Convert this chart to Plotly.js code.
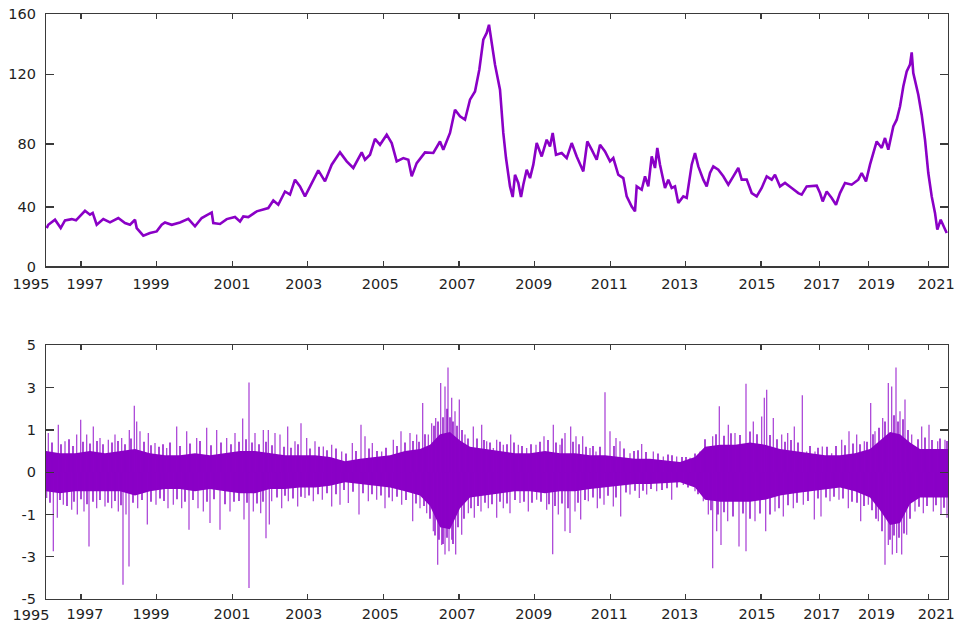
<!DOCTYPE html>
<html><head><meta charset="utf-8">
<script src="https://cdn.plot.ly/plotly-3.0.1.min.js"></script>
<style>html,body{margin:0;padding:0;background:#fff}#chart{width:958px;height:623px}</style>
</head><body><div id="chart"></div>
<script>
// ---------- tick labels ----------
const yearLabels = ['1997','1999','2001','2003','2005','2007','2009','2011','2013','2015','2017','2019','2021'];
const firstYearLabel = '1995';
// positions along the (unevenly labelled) time axis, in plot position units
const yearLabelPos = [85,151,232,303.8,380.3,457.3,533.8,609.3,679.8,757,821.8,876.5,936.2];
const yearTickPos  = [81,156.7,232.3,307.7,383.3,459,534.3,610.3,685.7,761,819.7,868.7,928.3];
const priceTickLabels = ['0','40','80','120','160'];
const priceTickPos = [0,37.65,77.6,121.7,160];
const retTickLabels = ['-5','-3','-1','0','1','3','5'];
const retTickPos = [-3,-2,-1,0,1,2,3];

// ---------- top panel: price series ----------
const pricePos = [46.7,48.3,55,60.7,65,71.7,76,80,85,90,92.7,96.7,103.3,110,118.3,125,130,135,136.7,143.3,
150,156.7,161.7,165,171.7,180,188.3,195,201.7,211.7,213.3,220,226.7,235,240,243.3,248.3,256.7,263.3,268.3,
273.3,278.3,285,290,295,300,305,310,318.3,325,331.7,340,346.7,353.3,361.7,365,370,375,380,386.7,
391.7,396.7,403.3,408.3,411.7,416.7,425,433.3,440,443.3,450,455,460,465,470,475,479.3,483.3,486.7,489,
491.7,495,500,503.3,506,508.3,510,512.7,515,518.3,521,523.3,526.7,530,533.3,536.7,541.7,546.7,550,552.7,
556,561.7,566.7,571.7,576.7,583.3,587.3,591.7,596.7,600,605,610,613.3,618.3,623.3,626.7,631.7,635,636.7,641.7,
645,648.3,651.7,655,657.3,660,665,668.3,671.7,675,678.3,683.3,686.7,691.7,695,698.3,703.3,706.7,710,713.3,
718.3,723.3,728.3,733.3,738.3,741.7,746.7,751.7,756.7,761.7,766.7,771.7,775,780,785,791.7,798.3,801.7,806.7,816.7,
820,822.7,826.7,831.7,836,840,845,851.7,858.3,861.7,866,870,876.7,881.7,885,888.3,893.3,896.7,900,903.3,
906.7,910,911.7,913.3,915,918.3,921.7,925,928.3,931.7,935,937.3,940.7,943.3,946.7];
const price = [24.3,26.4,29.6,24.3,29.2,30.0,29.2,32.1,35.3,32.8,33.9,26.4,30.0,27.9,30.7,27.5,26.4,29.6,24.3,19.5,
21.2,22.2,26.4,27.9,26.4,27.9,30.2,25.4,30.7,34.2,27.5,26.9,30.0,31.3,28.5,31.7,31.3,34.9,35.9,37.0,
41.8,39.1,47.5,45.5,55.0,50.7,44.4,50.7,60.9,53.9,64.5,72.3,66.6,62.4,72.3,67.6,70.8,80.8,77.1,83.5,
78.2,66.6,68.7,67.6,57.1,65.5,72.3,71.9,79.2,74.0,84.6,99.3,95.1,93.0,105.7,110.9,124.7,143.7,148.0,153.2,
141.6,127.9,112.0,84.6,68.7,57.1,50.7,44.0,58.1,52.9,44.0,51.8,61.3,56.0,64.5,78.2,69.7,80.3,76.1,84.6,
70.8,71.9,68.7,78.2,69.7,60.2,79.2,74.0,67.6,77.1,72.9,66.6,68.7,58.1,56.0,44.4,38.0,34.9,50.7,48.6,
57.1,50.7,69.7,62.4,75.1,64.5,49.7,55.0,49.7,50.7,40.2,44.4,43.4,64.5,71.9,63.4,55.0,50.7,59.2,63.4,
61.3,57.1,51.8,57.1,62.4,55.0,55.0,46.5,44.4,49.7,57.1,55.0,58.1,50.7,52.9,49.7,46.5,45.5,50.7,51.2,
46.5,41.2,47.5,43.4,39.1,46.5,52.9,51.8,55.0,59.2,53.9,64.5,79.2,75.1,81.4,74.0,88.7,93.0,101.4,114.1,
123.6,127.9,135.7,122.6,118.4,108.8,96.2,80.3,59.2,44.4,33.9,23.3,29.6,26.4,21.2];

// ---------- bottom panel: returns ----------
// dense core band of the daily returns (upper / lower edge)
const envPos = [46,60,75,90,105,120,135,150,165,180,195,210,225,240,255,270,285,300,315,330,
345,360,375,390,405,420,430,440,450,460,470,485,500,515,530,545,560,575,590,605,
620,635,650,665,680,695,705,720,735,750,765,780,795,810,825,840,855,870,880,890,
900,910,920,935,948];
const envUp = [0.5,0.45,0.45,0.5,0.45,0.5,0.55,0.45,0.4,0.4,0.45,0.4,0.45,0.5,0.5,0.45,0.4,0.4,0.4,0.36,
0.26,0.32,0.36,0.4,0.5,0.55,0.65,0.9,0.95,0.75,0.6,0.55,0.5,0.45,0.45,0.5,0.45,0.45,0.4,0.4,
0.36,0.32,0.32,0.28,0.24,0.36,0.6,0.65,0.65,0.7,0.65,0.55,0.5,0.45,0.4,0.4,0.45,0.55,0.75,0.95,
0.9,0.7,0.55,0.55,0.55];
const envLo = [-0.45,-0.5,-0.45,-0.45,-0.45,-0.45,-0.55,-0.45,-0.4,-0.4,-0.45,-0.4,-0.45,-0.5,-0.5,-0.4,-0.4,-0.36,-0.36,-0.32,
-0.24,-0.28,-0.32,-0.36,-0.45,-0.55,-0.8,-1.3,-1.35,-0.85,-0.6,-0.55,-0.5,-0.45,-0.45,-0.5,-0.45,-0.45,-0.4,-0.36,
-0.32,-0.28,-0.28,-0.26,-0.24,-0.36,-0.65,-0.7,-0.7,-0.7,-0.65,-0.55,-0.5,-0.45,-0.4,-0.36,-0.45,-0.6,-0.9,-1.25,
-1.2,-0.75,-0.6,-0.6,-0.6];

// individual return spikes sticking out of the band
const spikeUpPos = [48.3,58.3,65,76.7,80.7,86.7,93.3,100,108.3,115,121.7,129.3,134.3,136.7,140,148.3,155,166.7,176.7,186.7,
196.7,206.7,216.7,226.7,235,242.7,249,255,263.3,
268.3,275,280,287.7,295,301,306.7,315,323.3,331.7,341.7,352.3,361,365,372.3,381.7,393.3,401,410,416.7,
422.7,428.3,431.7,435.7,440.7,445,448,451.7,455,459.3,465,473.3,481.7,486.7,493.3,
496.7,503.3,510.7,518.3,526.7,536,544,553.3,560,565,570.7,576,582.7,590,596,605,610,616,620,630,
641.7,653.3,663.3,676.7,690,700,712.7,719.3,
728.3,735,746,753.3,761.7,764.3,766.7,773.3,781.7,787.7,794.3,802.3,806.7,815,822.3,831.7,841.7,849,856.7,864.3,
870.7,875,882.7,888.3,891.7,896,900,905,911.7,921.7,929,937.7,945];
const spikeUpVal = [0.93,1.12,0.73,0.89,1.24,0.89,1.08,0.81,0.77,0.89,0.81,1.0,1.57,1.2,0.97,0.93,0.69,0.57,1.08,0.97,
0.81,1.05,1.0,0.81,0.93,1.27,2.12,0.93,1.0,
1.0,0.93,0.89,1.08,0.73,1.16,0.81,0.73,0.61,0.65,0.49,0.69,1.12,0.85,0.69,0.49,0.77,0.97,0.93,0.89,
1.64,0.89,1.16,1.28,2.11,2.03,2.48,1.76,1.44,1.72,0.89,1.08,1.12,0.73,0.57,
0.77,0.65,0.89,0.65,0.57,0.65,0.85,1.12,0.65,0.93,1.08,0.85,0.85,0.57,0.49,1.89,0.97,0.81,0.73,0.45,
0.67,0.49,0.37,0.37,0.34,0.49,0.85,1.56,
1.12,0.93,2.09,1.2,1.32,1.76,1.95,1.28,0.89,0.93,1.08,1.82,0.49,0.49,0.61,0.45,0.77,0.97,0.89,0.73,
1.64,0.97,1.28,2.11,2.03,2.48,1.44,1.72,0.89,1.08,1.12,0.73,0.77];
const spikeDownPos = [46.7,53.3,57.3,63.3,71.7,77.3,84,89,96.7,105,111.7,118.3,123,126,129,137.7,147.3,156,168,173.3,
181.7,189,198,203.3,210,220,230,244,249,253.3,260.7,266,269.3,
271.7,281.7,288.3,297.7,305,313.3,322.3,331.7,340,348.3,359,368.3,376.7,385,392.3,401.7,412.7,420,426.7,433.3,
437.7,441.7,445,449,451.7,455.7,461.7,468.3,474.3,481,488.3,
496.7,503.3,510,520,528.3,536.7,546.7,552.7,558.3,565,570,575,580.7,588.3,597.3,604,613.3,620.7,630,639.3,
646.7,656.7,671.7,683.3,695,703.3,708.3,712.7,716.7,
721,727.7,739,746,755,765.7,775,783.3,793.3,803.3,814.3,821,830,839,848.3,860.7,868.3,878.3,885,888.3,
892.3,896.7,901.7,906.7,915,923.3,933.3,941,947];
const spikeDownVal = [-0.61,-1.87,-1.08,-0.77,-0.89,-1.0,-0.93,-1.76,-0.85,-0.81,-0.85,-0.93,-2.66,-1.0,-2.23,-0.85,-1.24,-0.77,-0.85,-0.77,
-0.85,-1.36,-0.85,-0.93,-1.2,-1.36,-0.93,-1.12,-2.74,-0.93,-0.97,-1.56,-1.24,
-0.69,-0.85,-0.69,-0.81,-0.61,-0.69,-0.65,-0.81,-0.77,-0.73,-1.0,-0.69,-0.65,-0.85,-0.69,-0.77,-1.16,-0.85,-0.97,-1.4,
-2.19,-1.72,-1.95,-1.87,-1.6,-1.95,-1.48,-0.97,-1.08,-0.93,-0.85,
-1.08,-0.85,-0.97,-0.73,-0.93,-0.65,-0.89,-1.94,-1.0,-1.4,-1.44,-0.93,-1.12,-0.69,-0.85,-0.77,-0.81,-1.05,-0.53,-0.61,
-0.53,-0.45,-0.65,-0.3,-0.45,-0.69,-1.0,-2.27,-1.4,
-1.72,-1.16,-1.76,-1.87,-1.16,-1.4,-0.93,-1.05,-0.85,-0.77,-1.12,-1.05,-0.69,-0.65,-0.85,-1.16,-0.77,-1.16,-2.19,-1.72,
-1.95,-1.91,-1.95,-1.48,-0.93,-0.97,-0.93,-1.0,-1.08];

// smaller returns that make the ragged edge of the band
const edgeUpPos = [52,61,69,73,83,90,97,103,112,118,125,131,144,151,159,163,170,180,190,200,211,221,231,239,246,252,259,266,
272,284,291,298,310,319,327,336,346,356,369,377,386,397,405,413,419,
425,434,438,443,447,450,453,457,462,468,
477,484,490,500,507,514,522,531,540,548,556,562,573,579,586,593,600,
614,624,634,638,646,658,668,672,682,686,695,
705,716,724,731,740,750,757,770,
777,785,791,798,810,818,827,836,845,853,860,867,
873,879,885,894,898,903,908,
918,925,932,940,947];
const edgeUpVal = [0.7,0.66,0.78,0.62,0.72,0.68,0.74,0.66,0.7,0.74,0.66,0.8,0.72,0.64,0.6,0.66,0.7,0.62,0.68,0.74,0.64,0.7,0.66,0.72,0.78,0.7,0.66,0.72,
0.64,0.6,0.58,0.66,0.56,0.6,0.52,0.56,0.44,0.5,0.56,0.5,0.58,0.62,0.7,0.74,0.72,
0.9,1.1,1.2,1.3,1.5,1.3,1.2,1.1,1.0,0.8,
0.8,0.76,0.7,0.72,0.66,0.7,0.62,0.66,0.72,0.76,0.7,0.8,0.72,0.66,0.6,0.62,0.6,
0.62,0.56,0.5,0.52,0.48,0.44,0.42,0.4,0.36,0.36,0.44,
0.78,0.9,0.86,0.92,0.88,0.96,0.9,0.88,
0.78,0.72,0.76,0.7,0.62,0.58,0.6,0.62,0.64,0.68,0.66,0.72,
0.9,1.05,1.2,1.35,1.2,1.25,1.0,
0.78,0.82,0.76,0.8,0.74];
const edgeDownPos = [50,60,67,74,81,87,93,100,108,115,121,133,142,151,160,164,177,185,193,207,214,225,234,239,247,257,263,
277,285,293,301,309,318,327,336,344,353,363,372,381,389,397,406,416,
424,430,435,439,443,447,453,458,464,471,
478,485,492,500,507,515,524,532,541,549,555,562,568,578,585,593,600,
608,616,626,635,643,651,662,667,677,688,698,
711,718,724,733,743,750,760,770,
779,788,797,808,818,826,834,843,852,857,864,
872,876,882,890,894,899,904,910,
919,927,936,944];
const edgeDownVal = [-0.72,-0.66,-0.8,-0.7,-0.64,-0.76,-0.7,-0.66,-0.72,-0.68,-0.78,-0.72,-0.66,-0.7,-0.62,-0.68,-0.64,-0.7,-0.66,-0.7,-0.64,-0.76,-0.7,-0.68,-0.72,-0.74,-0.7,
-0.6,-0.56,-0.62,-0.58,-0.55,-0.52,-0.5,-0.52,-0.42,-0.46,-0.5,-0.52,-0.55,-0.6,-0.58,-0.66,-0.74,
-0.8,-1.1,-1.5,-1.6,-1.7,-1.55,-1.7,-1.3,-1.1,-0.85,
-0.8,-0.72,-0.76,-0.7,-0.74,-0.66,-0.7,-0.72,-0.7,-0.76,-0.8,-0.74,-0.85,-0.72,-0.66,-0.6,-0.62,
-0.56,-0.6,-0.48,-0.44,-0.44,-0.4,-0.42,-0.38,-0.36,-0.36,-0.52,
-0.9,-1.0,-0.95,-1.05,-0.98,-1.1,-0.98,-1.0,
-0.85,-0.78,-0.72,-0.68,-0.62,-0.6,-0.58,-0.62,-0.7,-0.72,-0.8,
-0.9,-1.1,-1.4,-1.6,-1.5,-1.55,-1.45,-1.1,
-0.82,-0.8,-0.78,-0.84];

// ---------- build ----------
const purple = '#8A00C6';
const spikeColor = 'rgba(140,0,200,0.78)';
const axisColor = '#3a3a3a';
const tickFont = {family: 'DejaVu Sans, Arial, sans-serif', size: 14.5, color: '#1e1e1e'};
const X_RANGE = [46, 948];

function spikeSegments(pos, val) {
  const xs = [], ys = [];
  for (let i = 0; i < pos.length; i++) { xs.push(pos[i], pos[i], null); ys.push(0, val[i], null); }
  return {xs, ys};
}
const up = spikeSegments(spikeUpPos, spikeUpVal);
const dn = spikeSegments(spikeDownPos, spikeDownVal);
const eu = spikeSegments(edgeUpPos, edgeUpVal);
const ed = spikeSegments(edgeDownPos, edgeDownVal);

const traces = [
  {x: pricePos, y: price, xaxis: 'x', yaxis: 'y', type: 'scatter', mode: 'lines',
   line: {color: purple, width: 2.6}, hoverinfo: 'skip'},
  {x: envPos, y: envLo, xaxis: 'x2', yaxis: 'y2', type: 'scatter', mode: 'lines',
   line: {width: 0, color: purple}, hoverinfo: 'skip'},
  {x: envPos, y: envUp, xaxis: 'x2', yaxis: 'y2', type: 'scatter', mode: 'lines', fill: 'tonexty',
   fillcolor: purple, line: {width: 0, color: purple}, hoverinfo: 'skip'},
  {x: eu.xs.concat(ed.xs), y: eu.ys.concat(ed.ys), xaxis: 'x2', yaxis: 'y2', type: 'scatter', mode: 'lines',
   line: {color: 'rgba(138,0,198,0.9)', width: 1.6}, connectgaps: false, hoverinfo: 'skip'},
  {x: up.xs.concat(dn.xs), y: up.ys.concat(dn.ys), xaxis: 'x2', yaxis: 'y2', type: 'scatter', mode: 'lines',
   line: {color: spikeColor, width: 1.2}, connectgaps: false, hoverinfo: 'skip'},
  // anchors for the overlay axes (invisible)
  {x: [X_RANGE[0]], y: [0], xaxis: 'x3', yaxis: 'y', mode: 'markers', marker: {opacity: 0}, hoverinfo: 'skip'},
  {x: [X_RANGE[0]], y: [0], xaxis: 'x5', yaxis: 'y', mode: 'markers', marker: {opacity: 0}, hoverinfo: 'skip'},
  {x: [X_RANGE[0]], y: [0], xaxis: 'x4', yaxis: 'y2', mode: 'markers', marker: {opacity: 0}, hoverinfo: 'skip'},
  {x: [X_RANGE[0]], y: [0], xaxis: 'x6', yaxis: 'y2', mode: 'markers', marker: {opacity: 0}, hoverinfo: 'skip'}
];

function baseX(anchor, standoff) {
  return {anchor: anchor, range: X_RANGE, tickvals: [X_RANGE[0]], ticktext: [firstYearLabel], ticks: '',
    ticklabelshift: -15, ticklabelstandoff: standoff, tickangle: 0, tickfont: tickFont,
    showline: true, mirror: true, linecolor: axisColor, linewidth: 1.2, showgrid: false, zeroline: false, fixedrange: true};
}
function labelX(over, anchor, standoff) {
  return {overlaying: over, anchor: anchor, side: 'bottom', range: X_RANGE, tickvals: yearLabelPos, ticktext: yearLabels,
    ticks: '', ticklabelstandoff: standoff, tickangle: 0, tickfont: tickFont, showline: false, showgrid: false, zeroline: false, fixedrange: true};
}
function markX(over, anchor) {
  return {overlaying: over, anchor: anchor, side: 'bottom', range: X_RANGE, tickvals: yearTickPos, ticks: 'inside',
    ticklen: 5, tickwidth: 1.2, tickcolor: axisColor, mirror: 'ticks', showticklabels: false, showline: false,
    showgrid: false, zeroline: false, fixedrange: true};
}
function yAx(anchor, domain, range, vals, text) {
  return {anchor: anchor, domain: domain, range: range, tickvals: vals, ticktext: text, ticks: 'inside', ticklen: 8,
    tickwidth: 1.2, tickcolor: axisColor, mirror: 'ticks', showline: true, linecolor: axisColor, linewidth: 1.2,
    showgrid: false, zeroline: false, tickfont: tickFont, ticklabelstandoff: 6, fixedrange: true};
}

const layout = {
  width: 958, height: 623, margin: {l: 46, r: 10, t: 14, b: 24}, showlegend: false,
  paper_bgcolor: '#ffffff', plot_bgcolor: '#ffffff', font: tickFont,
  xaxis: baseX('y', 4), xaxis3: labelX('x', 'y', 7), xaxis5: markX('x', 'y'),
  xaxis2: baseX('y2', 2), xaxis4: labelX('x2', 'y2', 4), xaxis6: markX('x2', 'y2'),
  yaxis: yAx('x', [0.5685, 1], [0, 160], priceTickPos, priceTickLabels),
  yaxis2: yAx('x2', [0, 0.4335], [-3, 3], retTickPos, retTickLabels)
};

Plotly.newPlot('chart', traces, layout, {displayModeBar: false, staticPlot: true});
</script></body></html>
